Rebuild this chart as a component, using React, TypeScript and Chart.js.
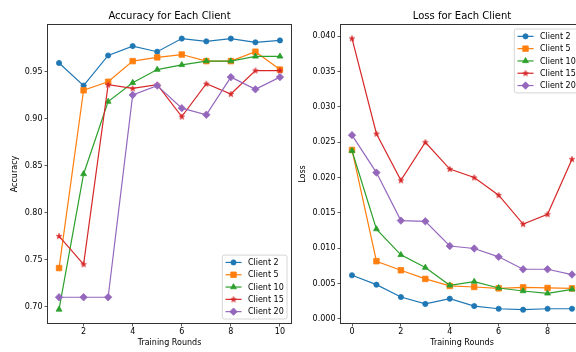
import React, { useEffect, useRef } from 'react';
import { Chart, registerables } from 'chart.js';
import { drawPoint } from 'chart.js/helpers';

Chart.register(...registerables);

// ---------------- data ----------------
const clientNames = ['Client 2', 'Client 5', 'Client 10', 'Client 15', 'Client 20'];
const clientColors = ['#1f77b4', '#ff7f0e', '#2ca02c', '#d62728', '#9467bd'];

const accRounds = [1, 2, 3, 4, 5, 6, 7, 8, 9, 10];
const accClient2 = [0.959, 0.935, 0.967, 0.977, 0.971, 0.985, 0.982, 0.985, 0.981, 0.983];
const accClient5 = [0.741, 0.930, 0.939, 0.961, 0.965, 0.968, 0.961, 0.961, 0.971, 0.952];
const accClient10 = [0.697, 0.841, 0.918, 0.938, 0.952, 0.957, 0.961, 0.961, 0.966, 0.966];
const accClient15 = [0.775, 0.745, 0.936, 0.932, 0.936, 0.902, 0.937, 0.926, 0.951, 0.951];
const accClient20 = [0.710, 0.710, 0.710, 0.925, 0.935, 0.911, 0.904, 0.944, 0.931, 0.944];

const lossRounds = [0, 1, 2, 3, 4, 5, 6, 7, 8, 9];
const lossClient2 = [0.00616, 0.00483, 0.00308, 0.0021, 0.00284, 0.0018, 0.00142, 0.00128, 0.00142, 0.00142];
const lossClient5 = [0.0239, 0.00815, 0.00687, 0.00564, 0.00465, 0.0045, 0.00431, 0.00445, 0.00436, 0.0043];
const lossClient10 = [0.0238, 0.0127, 0.00905, 0.00725, 0.00474, 0.00526, 0.00436, 0.00393, 0.0036, 0.00417];
const lossClient15 = [0.0397, 0.0262, 0.0196, 0.0250, 0.0212, 0.0200, 0.0175, 0.0134, 0.0148, 0.0226];
const lossClient20 = [0.0260, 0.0207, 0.0139, 0.0138, 0.0103, 0.00995, 0.00877, 0.00701, 0.00701, 0.00626];

const accXTicks = [2, 4, 6, 8, 10];
const accYTicks = [0.70, 0.75, 0.80, 0.85, 0.90, 0.95];
const lossXTicks = [0, 2, 4, 6, 8];
const lossYTicks = [0.000, 0.005, 0.010, 0.015, 0.020, 0.025, 0.030, 0.035, 0.040];

const FONT = "'DejaVu Sans', sans-serif";

// ---------------- helpers ----------------
function makeStar(color: string): HTMLCanvasElement {
  const c = document.createElement('canvas');
  c.width = 8;
  c.height = 8;
  const g = c.getContext('2d')!;
  g.fillStyle = color;
  g.strokeStyle = color;
  g.lineWidth = 0.5;
  g.beginPath();
  const cx = 4, cy = 4.2, ro = 3.1, ri = 1.25;
  for (let i = 0; i < 10; i++) {
    const r = i % 2 === 0 ? ro : ri;
    const a = -Math.PI / 2 + (i * Math.PI) / 5;
    const px = cx + r * Math.cos(a);
    const py = cy + r * Math.sin(a);
    if (i === 0) g.moveTo(px, py);
    else g.lineTo(px, py);
  }
  g.closePath();
  g.fill();
  g.stroke();
  return c;
}

function markerStyles() {
  return [
    { pointStyle: 'circle', radius: 2.6 },
    { pointStyle: 'rect', radius: 3.9 },
    { pointStyle: 'triangle', radius: 3.4 },
    { pointStyle: makeStar(clientColors[3]), radius: 3 },
    { pointStyle: 'rectRot', radius: 3.7 },
  ];
}

const framePlugin = {
  id: 'mplFrame',
  afterDatasetsDraw(chart: any) {
    const { ctx, chartArea: a } = chart;
    ctx.save();
    ctx.strokeStyle = '#333';
    ctx.lineWidth = 1;
    ctx.strokeRect(Math.round(a.left) - 0.5, Math.round(a.top) - 0.5, Math.round(a.right - a.left) + 1, Math.round(a.bottom - a.top) + 1);
    ctx.restore();
  },
};

const titlePlugin = {
  id: 'mplTitle',
  afterDraw(chart: any, _args: any, opts: any) {
    const { ctx, chartArea: a } = chart;
    ctx.save();
    ctx.font = `10px ${FONT}`;
    ctx.fillStyle = '#000';
    ctx.textAlign = 'center';
    ctx.textBaseline = 'middle';
    ctx.fillText(opts.text, (a.left + a.right) / 2, 16.5);
    ctx.restore();
  },
};

const legendPlugin = {
  id: 'mplLegend',
  afterDraw(chart: any, _args: any, opts: any) {
    const { ctx, chartArea: a } = chart;
    const fs = 8;
    const pad = 3.2;
    const handleLen = 16;
    const textPad = 6.4;
    const rowH = 8.3;
    const spacing = 4;
    const axPad = 4;
    const datasets = chart.data.datasets;
    ctx.save();
    ctx.font = `${fs}px ${FONT}`;
    let tw = 0;
    datasets.forEach((d: any) => { tw = Math.max(tw, ctx.measureText(d.label).width); });
    const w = pad * 2 + handleLen + textPad + tw;
    const h = pad * 2 + datasets.length * rowH + (datasets.length - 1) * spacing;
    const right = a.right - axPad;
    const left = right - w;
    const top = opts.loc === 'upper right' ? a.top + axPad : a.bottom - axPad - h;
    // box
    const r = 2;
    ctx.beginPath();
    ctx.moveTo(left + r, top);
    ctx.lineTo(left + w - r, top);
    ctx.quadraticCurveTo(left + w, top, left + w, top + r);
    ctx.lineTo(left + w, top + h - r);
    ctx.quadraticCurveTo(left + w, top + h, left + w - r, top + h);
    ctx.lineTo(left + r, top + h);
    ctx.quadraticCurveTo(left, top + h, left, top + h - r);
    ctx.lineTo(left, top + r);
    ctx.quadraticCurveTo(left, top, left + r, top);
    ctx.closePath();
    ctx.fillStyle = 'rgba(255,255,255,0.8)';
    ctx.fill();
    ctx.strokeStyle = '#cccccc';
    ctx.lineWidth = 0.8;
    ctx.stroke();
    datasets.forEach((d: any, i: number) => {
      const y = top + pad + rowH / 2 + i * (rowH + spacing);
      const x0 = left + pad;
      ctx.strokeStyle = d.borderColor;
      ctx.lineWidth = d.borderWidth;
      ctx.beginPath();
      ctx.moveTo(x0, y);
      ctx.lineTo(x0 + handleLen, y);
      ctx.stroke();
      ctx.fillStyle = d.pointBackgroundColor;
      ctx.strokeStyle = d.pointBorderColor;
      ctx.lineWidth = d.pointBorderWidth;
      drawPoint(ctx, { pointStyle: d.pointStyle, radius: d.pointRadius, rotation: 0, borderWidth: d.pointBorderWidth }, x0 + handleLen / 2, y);
      ctx.fillStyle = '#000';
      ctx.textAlign = 'left';
      ctx.textBaseline = 'middle';
      ctx.fillText(d.label, x0 + handleLen + textPad, y + 0.5);
    });
    ctx.restore();
  },
};

function buildDatasets(xs: number[], series: number[][]) {
  const ms = markerStyles();
  return series.map((vals, i) => ({
    label: clientNames[i],
    data: vals.map((v, j) => ({ x: xs[j], y: v })),
    borderColor: clientColors[i],
    backgroundColor: clientColors[i],
    borderWidth: 1.2,
    pointStyle: ms[i].pointStyle,
    pointRadius: ms[i].radius,
    pointHoverRadius: ms[i].radius,
    pointBackgroundColor: clientColors[i],
    pointBorderColor: clientColors[i],
    pointBorderWidth: 0.8,
    tension: 0,
    order: series.length - 1 - i,
  }));
}

function makeConfig(p: {
  title: string;
  yTitle: string;
  legendLoc: string;
  datasets: any[];
  xMin: number; xMax: number; yMin: number; yMax: number;
  xTicks: number[]; yTicks: number[]; yDecimals: number;
  yWidth: number; padRight: number; yTitlePad: number;
}): any {
  const tickColor = '#000';
  return {
    type: 'line',
    data: { datasets: p.datasets },
    options: {
      animation: false,
      responsive: false,
      devicePixelRatio: 1,
      layout: { padding: { left: 0, right: p.padRight, top: 25, bottom: 0 } },
      plugins: {
        legend: { display: false },
        tooltip: { enabled: false },
        title: { display: false },
        mplTitle: { text: p.title },
        mplLegend: { loc: p.legendLoc },
      },
      scales: {
        x: {
          type: 'linear',
          min: p.xMin,
          max: p.xMax,
          border: { display: false },
          grid: { drawOnChartArea: false, drawTicks: true, tickLength: 3.5, color: '#333', lineWidth: 0.8 },
          ticks: { color: tickColor, font: { family: FONT, size: 8 }, padding: 1, maxRotation: 0, autoSkip: false },
          afterBuildTicks: (s: any) => { s.ticks = p.xTicks.map((v) => ({ value: v })); },
          afterFit: (s: any) => { s.height = 29; },
          title: { display: true, text: 'Training Rounds', color: '#000', font: { family: FONT, size: 8 }, padding: { top: 0, bottom: 4 } },
        },
        y: {
          type: 'linear',
          min: p.yMin,
          max: p.yMax,
          border: { display: false },
          grid: { drawOnChartArea: false, drawTicks: true, tickLength: 3.5, color: '#333', lineWidth: 0.8 },
          ticks: {
            color: tickColor,
            font: { family: FONT, size: 8 },
            padding: 2,
            autoSkip: false,
            callback: (v: number) => Number(v).toFixed(p.yDecimals),
          },
          afterBuildTicks: (s: any) => { s.ticks = p.yTicks.map((v) => ({ value: v })); },
          afterFit: (s: any) => { s.width = p.yWidth; },
          title: { display: true, text: p.yTitle, color: '#000', font: { family: FONT, size: 8 }, padding: { top: p.yTitlePad, bottom: 0 } },
        },
      },
    },
    plugins: [framePlugin, titlePlugin, legendPlugin],
  };
}

export default function App() {
  const leftRef = useRef<HTMLCanvasElement>(null);
  const rightRef = useRef<HTMLCanvasElement>(null);

  useEffect(() => {
    const left = new Chart(leftRef.current!, makeConfig({
      title: 'Accuracy for Each Client',
      yTitle: 'Accuracy',
      legendLoc: 'lower right',
      datasets: buildDatasets(accRounds, [accClient2, accClient5, accClient10, accClient15, accClient20]),
      xMin: 0.55, xMax: 10.45, yMin: 0.6826, yMax: 0.9994,
      xTicks: accXTicks, yTicks: accYTicks, yDecimals: 2,
      yWidth: 48, padRight: 9, yTitlePad: 10,
    }));
    const right = new Chart(rightRef.current!, makeConfig({
      title: 'Loss for Each Client',
      yTitle: 'Loss',
      legendLoc: 'upper right',
      datasets: buildDatasets(lossRounds, [lossClient2, lossClient5, lossClient10, lossClient15, lossClient20]),
      xMin: -0.45, xMax: 9.45, yMin: -0.0006, yMax: 0.0416,
      xTicks: lossXTicks, yTicks: lossYTicks, yDecimals: 3,
      yWidth: 46, padRight: 12, yTitlePad: 3.5,
    }));
    return () => {
      left.destroy();
      right.destroy();
    };
  }, []);

  return (
    <div style={{ position: 'absolute', left: 0, top: 0, width: 576, height: 352, overflow: 'hidden', background: '#fff' }}>
      <canvas ref={leftRef} width={300} height={352} style={{ position: 'absolute', left: 0, top: 0, display: 'block' }} />
      <canvas ref={rightRef} width={300} height={352} style={{ position: 'absolute', left: 295, top: 0, display: 'block' }} />
    </div>
  );
}
